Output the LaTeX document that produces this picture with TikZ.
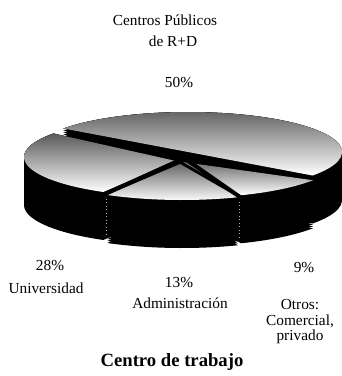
\documentclass[tikz,border=0pt]{standalone}
\usepackage{fontspec}
\setmainfont{Liberation Serif}
\usepackage{tikz}

\tikzset{
  side/.style={fill=black},
  face/.style={top color=black!65, middle color=black!42, bottom color=white},
  gap/.style={line width=3pt, line cap=round},
  seam/.style={gray!60, dotted, line width=0.6pt},
  lbl/.style={font=\fontsize{11.5}{11.6}\selectfont, inner sep=0pt, align=center},
  ttl/.style={font=\fontsize{14}{16}\bfseries\selectfont, inner sep=0pt}
}

\begin{document}
\begin{tikzpicture}[x=0.75pt,y=0.75pt,yscale=-1,xscale=1]
\useasboundingbox (0,0) rectangle (342,376);

%Pie: sides of the slices
\foreach \d in {0,2,...,48} {
  \begin{scope}[shift={(6,-5+\d)}]
  \fill[side] (182,157) ++(216:154 and 40) arc[start angle=216, end angle=396, x radius=154, y radius=40] -- cycle;
  \end{scope}
  \begin{scope}[shift={(-4,0+\d)}]
  \fill[side] (182,157) ++(119:154 and 40) arc[start angle=119, end angle=216, x radius=154, y radius=40] -- (180,161) -- cycle;
  \end{scope}
  \begin{scope}[shift={(3,1+\d)}]
  \fill[side] (182,157) ++(33.8:154 and 40) arc[start angle=33.8, end angle=68.7, x radius=154, y radius=40] -- (180,161) -- cycle;
  \end{scope}
  \begin{scope}[shift={(0,3+\d)}]
  \fill[side] (182,157) ++(68.7:154 and 40) arc[start angle=68.7, end angle=119, x radius=154, y radius=40] -- (180,161) -- cycle;
  \end{scope}
}

%Pie: top of Centros Publicos
\begin{scope}[shift={(6,-5)}]
\fill[face] (182,157) ++(216:154 and 40) arc[start angle=216, end angle=396, x radius=154, y radius=40] -- cycle;
\end{scope}
%Pie: top of Universidad
\begin{scope}[shift={(-4,0)}]
\fill[face] (182,157) ++(119:154 and 40) arc[start angle=119, end angle=216, x radius=154, y radius=40] -- (180,161) -- cycle;
\end{scope}
%Pie: top of Otros
\begin{scope}[shift={(3,1)}]
\fill[face] (182,157) ++(33.8:154 and 40) arc[start angle=33.8, end angle=68.7, x radius=154, y radius=40] -- (180,161) -- cycle;
\end{scope}
%Pie: top of Administracion
\begin{scope}[shift={(0,3)}]
\fill[face] (182,157) ++(68.7:154 and 40) arc[start angle=68.7, end angle=119, x radius=154, y radius=40] -- (180,161) -- cycle;
\end{scope}

%Gaps between the slices
\draw[gap] (180,160) -- (105,194);
\draw[gap] (184,158) -- (240,197);

%Seams on the side
\draw[seam] (106,199) -- (106,236);
\draw[seam] (239,202) -- (239,240);

%Labels
\node[lbl] (cpub) at (165,31) {Centros Públicos\\[4.5pt]\hspace*{12pt}de R+D};
\node[lbl] (pcpub) at (179,82) {50\%};
\node[lbl] (puniv) at (50,265) {28\%};
\node[lbl] (univ) at (46,288) {Universidad};
\node[lbl] (padm) at (179,282) {13\%};
\node[lbl] (adm) at (180,303) {Administración};
\node[lbl] (potr) at (304,267) {9\%};
\node[lbl] (otr) at (300,322) {Otros:\\Comercial,\\privado};
\node[ttl] (titl) at (172,362) {Centro de trabajo};

\end{tikzpicture}
\end{document}
